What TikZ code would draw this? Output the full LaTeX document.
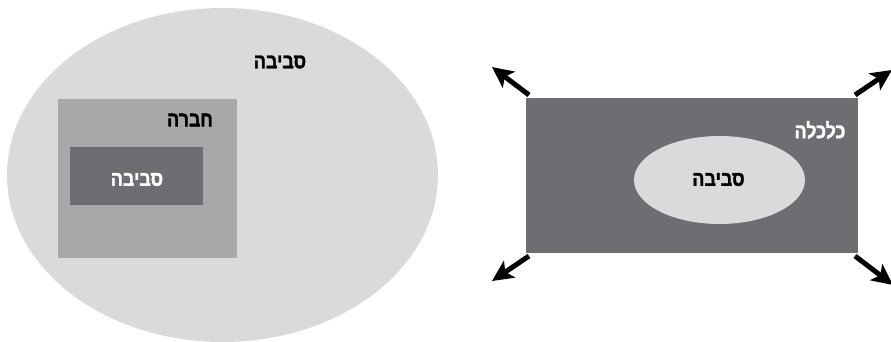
\documentclass[tikz,border=0pt]{standalone}
\usepackage{fontspec}
\usetikzlibrary{shapes.geometric,arrows.meta,backgrounds}
\TeXXeTstate=1
\newfontfamily\hebfont[Script=Hebrew,FakeStretch=0.85,BoldFont={Liberation Sans Bold},BoldFeatures={FakeBold=1.5,FakeStretch=0.85}]{Liberation Sans}
\definecolor{lightg}{HTML}{D9DADC}
\definecolor{midg}{HTML}{A7A8AA}
\definecolor{darkg}{HTML}{6D6E71}
\tikzset{
  shapebox/.style={draw=none,inner sep=0pt,outer sep=0pt},
  lbl/.style={font=\hebfont\bfseries\fontsize{21}{24}\selectfont,inner sep=0pt},
  outarrow/.style={line width=5pt,-{Stealth[length=21pt,width=20pt,inset=5pt]}}
}
\begin{document}
\begin{tikzpicture}[x=1pt,y=-1pt]
\useasboundingbox (0,0) rectangle (891,342);
% left part
\node[shapebox,ellipse,fill=lightg,minimum width=431pt,minimum height=334pt] (env) at (222.5,175) {};
\node[shapebox,rectangle,fill=midg,minimum width=179pt,minimum height=159pt] (comp) at (147.5,178.5) {};
\node[shapebox,rectangle,fill=darkg,minimum width=133pt,minimum height=58pt] (inner) at (136.5,176) {};
\node[lbl] (envl) at (280,62) {\beginR סביבה\endR};
\node[lbl] (compl) at (190,120) {\beginR חברה\endR};
\node[lbl,text=white] (innerl) at (137,179.5) {\beginR סביבה\endR};
% right part
\coordinate (tl) at (492,67);
\coordinate (tr) at (892,70);
\coordinate (bl) at (492,281);
\coordinate (br) at (893,285);
\node[shapebox,rectangle,fill=darkg,minimum width=332pt,minimum height=155pt] (econ) at (692,175.5) {};
\node[shapebox,ellipse,fill=lightg,minimum width=171pt,minimum height=88pt] (env2) at (719.5,180) {};
\node[lbl] (env2l) at (718.5,179.5) {\beginR סביבה\endR};
\node[lbl,text=white] (econl) at (820,130) {\beginR כלכלה\endR};
\begin{scope}[on background layer]
\draw[outarrow] ([shift={(3pt,3pt)}]econ.north west) -- (tl);
\draw[outarrow] ([shift={(-3pt,3pt)}]econ.north east) -- (tr);
\draw[outarrow] ([shift={(3pt,-3pt)}]econ.south west) -- (bl);
\draw[outarrow] ([shift={(-3pt,-3pt)}]econ.south east) -- (br);
\end{scope}
\end{tikzpicture}
\end{document}
